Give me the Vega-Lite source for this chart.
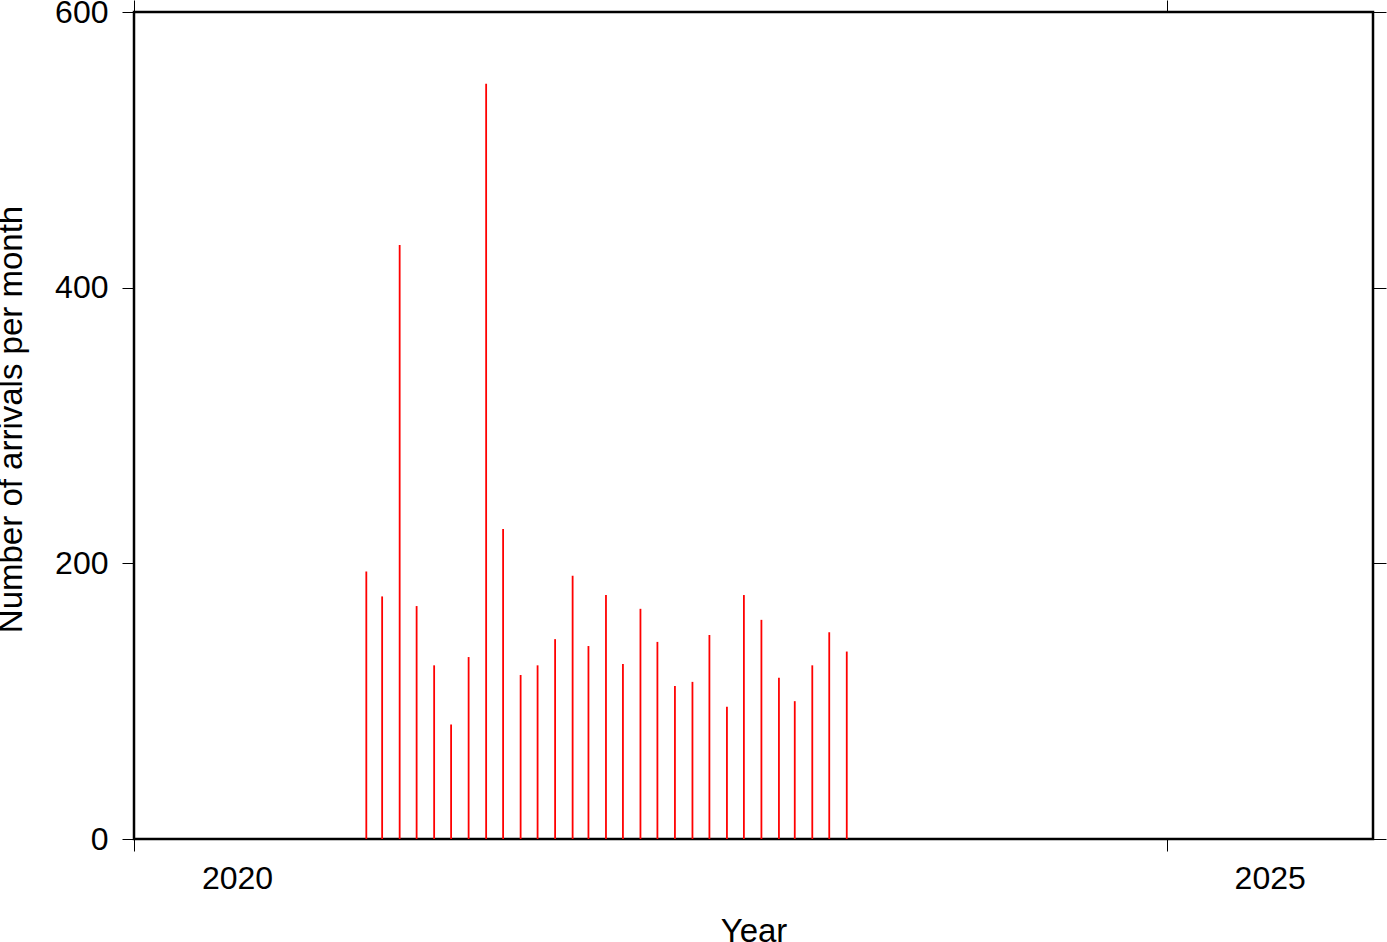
{
  "$schema": "https://vega.github.io/schema/vega-lite/v6.json",
  "width": 1239,
  "height": 827,
  "autosize": {"type": "none"},
  "padding": {"left": 134, "top": 12, "right": 14, "bottom": 103},
  "background": "white",
  "config": {
    "font": "Liberation Sans",
    "view": {"stroke": "black", "strokeWidth": 2.5},
    "axis": {"grid": false, "domain": false, "tickColor": "black", "tickWidth": 1, "labelColor": "black", "titleColor": "black", "labelFont": "Liberation Sans", "titleFont": "Liberation Sans", "labelFontSize": 32, "titleFontSize": 33, "titleFontWeight": "normal"}
  },
  "data": {"values": [
    {"month": "2021-02-15", "count": 194},
    {"month": "2021-03-15", "count": 176},
    {"month": "2021-04-15", "count": 431},
    {"month": "2021-05-15", "count": 169},
    {"month": "2021-06-15", "count": 126},
    {"month": "2021-07-15", "count": 83},
    {"month": "2021-08-15", "count": 132},
    {"month": "2021-09-15", "count": 548},
    {"month": "2021-10-15", "count": 225},
    {"month": "2021-11-15", "count": 119},
    {"month": "2021-12-15", "count": 126},
    {"month": "2022-01-15", "count": 145},
    {"month": "2022-02-15", "count": 191},
    {"month": "2022-03-15", "count": 140},
    {"month": "2022-04-15", "count": 177},
    {"month": "2022-05-15", "count": 127},
    {"month": "2022-06-15", "count": 167},
    {"month": "2022-07-15", "count": 143},
    {"month": "2022-08-15", "count": 111},
    {"month": "2022-09-15", "count": 114},
    {"month": "2022-10-15", "count": 148},
    {"month": "2022-11-15", "count": 96},
    {"month": "2022-12-15", "count": 177},
    {"month": "2023-01-15", "count": 159},
    {"month": "2023-02-15", "count": 117},
    {"month": "2023-03-15", "count": 100},
    {"month": "2023-04-15", "count": 126},
    {"month": "2023-05-15", "count": 150},
    {"month": "2023-06-15", "count": 136}
  ]},
  "resolve": {"axis": {"x": "independent", "y": "independent"}},
  "layer": [
    {
      "mark": {"type": "rule", "color": "#ff0000", "strokeWidth": 1.8},
      "encoding": {
        "x": {"field": "month", "type": "temporal",
          "scale": {"type": "utc", "domain": [{"year": 2020, "month": 1, "date": 1, "utc": true}, {"year": 2026, "month": 1, "date": 1, "utc": true}]},
          "axis": {"orient": "bottom", "title": "Year", "titlePadding": 21, "values": [{"year": 2020, "month": 1, "date": 1, "utc": true}, {"year": 2025, "month": 1, "date": 1, "utc": true}], "format": "%Y", "formatType": "utc", "tickSize": 12, "labelOffset": 103, "labelPadding": 12, "labelBound": false, "labelOverlap": false, "labelFlush": false}},
        "y": {"field": "count", "type": "quantitative",
          "scale": {"domain": [0, 600], "nice": false, "zero": true},
          "axis": {"orient": "left", "title": "Number of arrivals per month", "titlePadding": 26, "titleY": 407, "values": [0, 200, 400, 600], "tickSize": 12, "labelPadding": 14, "labelBaseline": "middle"}},
        "y2": {"datum": 0}
      }
    },
    {
      "mark": {"type": "rule", "opacity": 0},
      "encoding": {
        "x": {"field": "month", "type": "temporal",
          "axis": {"orient": "top", "title": null, "labels": false, "values": [{"year": 2020, "month": 1, "date": 1, "utc": true}, {"year": 2025, "month": 1, "date": 1, "utc": true}], "tickSize": 12}},
        "y": {"field": "count", "type": "quantitative",
          "axis": {"orient": "right", "title": null, "labels": false, "values": [0, 200, 400, 600], "tickSize": 13}},
        "y2": {"datum": 0}
      }
    }
  ]
}
